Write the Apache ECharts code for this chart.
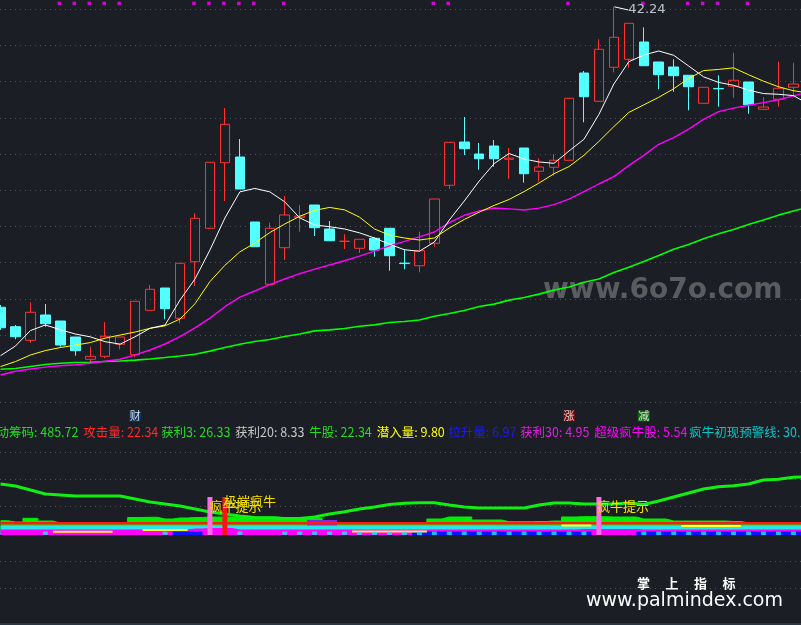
<!DOCTYPE html>
<html><head><meta charset="utf-8">
<script src="https://cdn.jsdelivr.net/npm/echarts@6/dist/echarts.min.js"></script>
<style>html,body{margin:0;padding:0;background:#1c1e26;}#c{width:801px;height:625px;}</style>
</head><body><div id="c"></div>
<script>
// ---------------- data ----------------
const cats = ['1','2','3','4','5','6','7','8','9','10','11','12','13','14','15','16','17','18','19','20',
'21','22','23','24','25','26','27','28','29','30','31','32','33','34','35','36','37','38','39','40',
'41','42','43','44','45','46','47','48','49','50','51','52','53','54','55'];

// [open, close, low, high]
const candles = [
[21.20,19.77,19.61,21.36],[19.84,19.14,18.96,19.96],[18.89,20.85,18.72,21.55],[20.66,20.05,19.84,21.43],
[20.24,18.56,18.44,20.24],[19.12,18.16,17.81,19.12],[17.56,17.77,17.35,18.44],[17.77,19.17,17.63,20.17],
[18.61,19.12,18.26,19.12],[17.88,21.62,17.70,21.62],[20.99,22.46,20.99,22.76],[22.55,21.10,20.36,22.55],
[20.43,24.28,20.08,24.28],[24.39,27.43,22.69,27.78],[26.73,31.35,26.73,31.35],[31.32,34.01,28.64,35.15],
[31.72,29.48,29.48,32.98],[27.17,25.44,25.44,27.17],[22.81,26.73,22.81,27.12],[25.37,27.66,24.51,28.99],
[27.50,27.59,26.49,28.36],[28.36,26.77,26.19,28.36],[26.68,25.86,25.86,27.24],[25.81,25.83,25.28,26.31],
[25.33,25.96,25.00,25.96],[26.03,25.21,24.74,26.10],[26.73,24.81,23.76,26.73],[24.29,24.26,23.86,25.26],
[24.11,25.16,23.65,26.49],[25.68,28.78,25.44,28.78],[29.74,32.75,29.50,32.75],[32.77,32.30,31.86,34.52],
[31.93,31.60,30.83,32.70],[32.49,31.60,31.04,32.91],[31.56,31.64,30.20,32.35],[32.35,30.55,29.92,32.35],
[30.72,31.02,29.99,31.63],[31.00,31.49,30.41,31.91],[31.49,35.83,31.49,35.83],[37.60,35.94,34.15,37.74],
[35.62,39.26,35.62,39.96],[38.00,40.10,37.65,42.24],[38.56,41.08,37.97,41.08],[39.77,38.11,38.11,40.80],
[38.37,37.48,36.46,38.37],[38.02,37.41,36.29,38.56],[37.44,36.64,34.99,37.44],[35.48,36.60,35.48,36.60],
[36.52,36.49,35.24,37.44],[36.67,37.09,35.87,39.02],[36.97,35.38,34.75,36.97],[35.06,35.22,35.01,35.90],
[35.76,36.53,35.24,38.39],[36.60,36.83,35.94,38.32],'-'
];

const ma5 = [17.81,18.49,19.57,19.96,19.63,19.33,19.13,18.79,18.62,19.14,19.73,19.96,21.71,23.18,25.21,27.45,29.28,29.52,29.28,28.58,
27.46,26.96,26.84,26.68,26.41,26.05,25.61,25.23,25.12,25.77,27.31,28.64,30.04,31.26,31.96,31.58,31.37,31.28,32.14,32.96,
34.70,36.83,38.39,38.86,39.14,38.84,38.09,37.33,36.94,36.74,36.40,36.16,36.11,36.02,35.43];
const ma10 = [17.05,17.40,17.86,18.17,18.38,18.55,18.73,19.04,19.26,19.47,19.73,19.90,20.38,21.45,23.00,24.14,25.08,25.70,26.43,27.03,
27.57,27.99,28.19,28.02,27.51,26.68,26.25,26.05,25.91,26.05,26.75,27.35,27.86,28.33,28.75,29.30,29.90,30.55,31.05,31.84,
32.81,33.85,34.84,35.37,35.90,36.50,37.22,37.77,37.85,37.96,37.48,37.03,36.64,36.36,36.20];
const ma20 = [16.46,16.72,16.88,17.01,17.11,17.18,17.28,17.42,17.56,17.87,18.21,18.63,19.14,19.76,20.44,21.24,21.91,22.34,22.79,23.18,
23.55,23.87,24.16,24.46,24.78,25.13,25.50,25.81,26.13,26.47,27.13,27.64,27.94,28.15,28.09,28.01,28.14,28.39,28.77,29.30,
29.83,30.35,31.12,31.83,32.61,33.07,33.67,34.35,34.90,35.14,35.34,35.53,35.73,36.00,36.27];
const ma60 = [16.86,16.91,17.05,17.19,17.28,17.33,17.35,17.40,17.44,17.50,17.58,17.68,17.79,17.91,18.13,18.38,18.61,18.80,18.94,19.15,
19.33,19.55,19.62,19.71,19.87,19.97,20.13,20.20,20.31,20.57,20.76,20.97,21.25,21.42,21.70,21.88,22.12,22.40,22.62,22.95,
23.18,23.63,24.00,24.40,24.82,25.27,25.59,25.99,26.34,26.65,26.99,27.31,27.65,27.94,28.22];

// top signal dots
const sigIdx = [4,5,6,7,8,13,14,15,16,17,19,29,30,38,43,46,47,48,50];
const sigLevel = 42.47;

// indicator panel
const indMain = [51,49,45,41,40,39,39,39,39,36,33,31,29,26,23,21,19,17.5,17.3,16.5,
16.5,18,21,23.3,26,28,30.5,31.7,32.3,32.3,30,28,27,27,27,27,30,32,32,31,
31,31,32,30.5,34,38,42,46,48.3,49.3,51,55,55.7,57.7,58.5];
const indGreen = [14.3,13,16.7,14,12,12,12,12,12,17.5,17.7,16,17,17.5,18,18,18,18,18,17,
16.7,16.7,12,12,12,12,12,12,12,16,18,18,15,15,13.3,13.3,13.5,14,18,18.3,
18.3,18,18,16,16,14,14,14,14,13.5,12,12,12,12,12];
const indPurple = [null,null,null,null,null,null,null,null,null,null,null,null,null,null,null,null,null,null,null,null,
null,15,15,null,null,null,null,null,null,null,null,null,null,null,null,null,null,null,null,null,
null,null,null,null,null,null,null,null,null,null,null,null,null,null,null];
const indRed = [11.7,11.7,11.7,11.7,11.7,11.7,11.7,11.7,11.7,11.7,11.7,11.7,11.7,11.7,11.7,11.7,11.7,11.7,11.7,11.7,
11.7,11.7,11.7,11.7,11.7,11.7,11.7,11.7,11.7,11.7,11.7,11.7,11.7,11.7,11.7,11.7,11.7,11.7,11.7,11.7,
11.7,11.7,11.7,11.7,11.7,11.7,11.7,11.7,11.7,11.7,11.7,11.7,11.7,11.7,11.7];
const indCyan = [9.5,9.5,9.5,9.5,9.5,9.5,9.5,9.5,9.5,9.5,9.5,9.5,9.5,9.5,9.5,9.5,9.5,9.5,9.5,9.5,
9.5,9.5,9.5,9.5,9.5,9.5,9.5,9.5,9.5,9.5,9.5,9.5,9.5,9.5,9.5,9.5,9.5,9.5,9.5,9.5,
9.5,9.5,9.5,9.5,9.5,9.5,9.5,9.5,9.5,9.5,9.5,9.5,9.5,9.5,9.5];
const indMagenta = [5.5,5.5,5.5,5.5,5.5,5.5,5.5,5.5,5.5,5.5,5.5,5.5,5.5,6.5,7,7,5.5,5.5,5.5,5.5,
5.5,5.5,5.5,5.5,5.5,5.5,5.5,5.5,5.5,5.5,5.5,5.5,5.5,5.5,5.5,5.5,5.5,5.5,5.5,6,
6,6,6,5.5,5.5,5.5,5.5,5.5,5.5,5.5,5.5,5.5,5.5,5.5,5.5];
const indBlue = [null,null,null,null,null,null,null,null,null,null,null,null,3.5,3.5,null,null,null,null,null,null,
null,null,null,null,null,null,null,null,3.5,3.5,3.5,3.5,3.5,3.5,3.5,3.5,3.5,3.5,3.5,3.5,
null,null,null,3.5,3.5,3.5,3.5,3.5,3.5,3.5,3.5,3.5,3.5,3.5,3.5];
const indYellow = [null,null,null,null,3.3,3.3,3.3,3.3,null,null,5,5,5,null,null,null,null,null,null,null,
null,null,null,null,3.5,3.5,3.5,3.5,3.5,null,null,null,null,null,null,null,null,null,9.5,9.5,
null,null,null,null,null,null,9,9,9,9,null,null,null,null,null];
const cyanSqIdx = [3,11,16,19,20,21,22,23,24,25,26,27,28,29,30,31,32,33,34,35,36,37,38,39,43,44,45,46,47,48,49,50,51,52,53];
const cyanSqLevel = 1.7;
const barIdx = [14,15,40];
const barVal = [38,38,38];
const barText = ['疯牛提示','极端疯牛','疯牛提示'];
const markIdx = [9,38,43];
const markLevel = 119;
const markText = ['财','涨','减'];

const legendNames = ['动筹码','攻击量','获利3','获利20','牛股','潜入量','拉升量','获利30','超级疯牛股','疯牛初现预警线'];
const legendVals = ['485.72','22.34','26.33','8.33','22.34','9.80','6.97','4.95','5.54','30.00'];

// ---------------- styles ----------------
const BG = '#1c1e26';
const legendColors = ['#22dd22','#ff2a2a','#22dd22','#c8c8c8','#22dd22','#ffff00','#1a1aff','#e01ee0','#ff00ff','#00c8c8'];
const legendX = [-3.5,83.3,161,235,309.3,376.7,448.3,520,594.3,689.3];
const markColors = ['#0b3a72','#8a0a0a','#0a7a0a'];
const barColors = ['#ff6ae6','#ff1414','#ff6ae6'];
const barLabelPos = [[2,2.5],[1.6,-2.8],[0.6,3]];
const dotLine = {show:true, lineStyle:{color:'#4c505a', width:1, type:[1,4]}};
const CJK = '"Noto Sans CJK SC"';

const chart = echarts.init(document.getElementById('c'), null, {renderer:'canvas'});

const hidAx = {axisLine:{show:false}, axisTick:{show:false}, axisLabel:{show:false}};
const GL = -6.98, GW = 822.8;
const gridBase = {outerBoundsMode:'none', containLabel:false};

const barData = cats.map(()=>null);
barIdx.forEach((ix,k)=>{
  barData[ix] = {value:barVal[k], itemStyle:{color:barColors[k]},
    label:{show:true, formatter:barText[k], position:barLabelPos[k], color:'#f5e000',
      fontSize:13, fontFamily:CJK}};
});

const graphics = [];
legendNames.forEach((n,k)=>{
  graphics.push({type:'text', x:legendX[k], y:432, z:10,
    style:{text:n+': '+legendVals[k], fill:legendColors[k], font:'12.5px '+CJK, verticalAlign:'middle'}});
});
graphics.push({type:'text', x:543, y:291, z:1,
  style:{text:'www.6o7o.com', fill:'#5b5c60', font:'bold 28px "DejaVu Sans"', verticalAlign:'middle'}});
['掌','上','指','标'].forEach((ch,k)=>{
  graphics.push({type:'text', x:637+k*28.5, y:583, z:10,
    style:{text:ch, fill:'#ffffff', font:'bold 13px '+CJK, verticalAlign:'middle'}});
});
graphics.push({type:'text', x:586, y:601, z:10,
  style:{text:'www.palmindex.com', fill:'#ffffff', font:'19px "DejaVu Sans"', verticalAlign:'middle'}});
graphics.push({type:'rect', z:10, shape:{x:0,y:623,width:801,height:2}, style:{fill:'#2b3644'}});

const option = {
  backgroundColor: BG,
  animation:false,
  graphic: graphics,
  grid:[
    Object.assign({left:GL, width:GW, top:0, height:400}, gridBase),
    Object.assign({left:GL, width:GW, top:400, height:135}, gridBase),
    Object.assign({left:0, right:0, top:9.3, height:362}, gridBase),
    Object.assign({left:0, right:0, top:402, height:50.1}, gridBase),
    Object.assign({left:0, right:0, top:479.3, height:108.8}, gridBase)
  ],
  xAxis:[
    Object.assign({type:'category', gridIndex:0, data:cats, boundaryGap:true, splitLine:{show:false}}, hidAx),
    Object.assign({type:'category', gridIndex:1, data:cats, boundaryGap:true, splitLine:{show:false}}, hidAx),
    Object.assign({type:'value', gridIndex:2, min:0, max:1, splitLine:{show:false}}, hidAx),
    Object.assign({type:'value', gridIndex:3, min:0, max:1, splitLine:{show:false}}, hidAx),
    Object.assign({type:'value', gridIndex:4, min:0, max:1, splitLine:{show:false}}, hidAx)
  ],
  yAxis:[
    Object.assign({type:'value', gridIndex:0, min:14.71, max:42.71, splitLine:{show:false}}, hidAx),
    Object.assign({type:'value', gridIndex:1, min:0, max:135, splitLine:{show:false}}, hidAx),
    Object.assign({type:'value', gridIndex:2, min:0, max:10, interval:1, splitLine:dotLine}, hidAx),
    Object.assign({type:'value', gridIndex:3, min:0, max:1, interval:1, splitLine:dotLine}, hidAx),
    Object.assign({type:'value', gridIndex:4, min:0, max:4, interval:1, splitLine:dotLine}, hidAx)
  ],
  series:[
    {type:'line', xAxisIndex:2, yAxisIndex:2, data:[], silent:true},
    {type:'line', xAxisIndex:3, yAxisIndex:3, data:[], silent:true},
    {type:'line', xAxisIndex:4, yAxisIndex:4, data:[], silent:true},
    {type:'candlestick', xAxisIndex:0, yAxisIndex:0, data:candles, barWidth:10, z:3,
      itemStyle:{color:'rgba(0,0,0,0)', color0:'#54ffff', borderColor:'#ff3232', borderColor0:'#54ffff', borderWidth:1}},
    {type:'line', xAxisIndex:0, yAxisIndex:0, data:ma60, symbol:'none', z:4, lineStyle:{color:'#00ff00', width:1.6}},
    {type:'line', xAxisIndex:0, yAxisIndex:0, data:ma20, symbol:'none', z:4, lineStyle:{color:'#ff00ff', width:1.4}},
    {type:'line', xAxisIndex:0, yAxisIndex:0, data:ma10, symbol:'none', z:4, lineStyle:{color:'#ffff00', width:1}},
    {type:'line', xAxisIndex:0, yAxisIndex:0, data:ma5, symbol:'none', z:4, lineStyle:{color:'#ffffff', width:1}},
    {type:'scatter', xAxisIndex:0, yAxisIndex:0, symbol:'rect', symbolSize:3.5, symbolOffset:[-1,0], z:5,
      itemStyle:{color:'#ff00ff'}, data: sigIdx.map(i=>[i, sigLevel])},
    {type:'scatter', xAxisIndex:0, yAxisIndex:0, symbolSize:1, z:6, itemStyle:{color:'rgba(0,0,0,0)'},
      data:[[41, candles[41][3]]],
      label:{show:true, position:'right', distance:5, formatter:(p)=>p.value[1].toFixed(2), color:'#e2e9f2', fontSize:13, fontFamily:'"DejaVu Sans"'},
      labelLayout:{dx:9, dy:3.3},
      labelLine:{show:true, lineStyle:{color:'#ffffff', width:1}}},
    // indicator panel
    {type:'line', xAxisIndex:1, yAxisIndex:1, data:indGreen, step:'middle', symbol:'none', z:2,
      lineStyle:{width:1, color:'#00ee00'}, areaStyle:{color:'#00ee00', opacity:1}},
    {type:'line', xAxisIndex:1, yAxisIndex:1, data:indPurple, step:'middle', symbol:'none', z:3,
      lineStyle:{width:0}, areaStyle:{color:'#7a2cf0', opacity:1}},
    {type:'line', xAxisIndex:1, yAxisIndex:1, data:indCyan, step:'middle', symbol:'none', z:4,
      lineStyle:{width:0}, areaStyle:{color:'#22e8e8', opacity:1}},
    {type:'line', xAxisIndex:1, yAxisIndex:1, data:indRed, step:'middle', symbol:'none', z:5,
      lineStyle:{width:2.5, color:'#ff1a1a'}},
    {type:'line', xAxisIndex:1, yAxisIndex:1, data:indMagenta, step:'middle', symbol:'none', z:6,
      lineStyle:{width:0}, areaStyle:{color:'#ff00ff', opacity:1}},
    {type:'line', xAxisIndex:1, yAxisIndex:1, data:indBlue, step:'middle', symbol:'none', z:7,
      lineStyle:{width:0}, areaStyle:{color:'#0a14ff', opacity:1}},
    {type:'line', xAxisIndex:1, yAxisIndex:1, data:indYellow, step:'middle', symbol:'none', z:8,
      lineStyle:{width:2, color:'#ffff33'}},
    {type:'scatter', xAxisIndex:1, yAxisIndex:1, symbol:'rect', symbolSize:[5,3.5], z:9,
      itemStyle:{color:'#1ee6f0'}, data: cyanSqIdx.map(i=>[i, cyanSqLevel])},
    {type:'line', xAxisIndex:1, yAxisIndex:1, data:indMain, symbol:'none', z:9,
      lineStyle:{width:3, color:'#11ee11'}},
    {type:'bar', xAxisIndex:1, yAxisIndex:1, data:barData, barWidth:5, z:10},
    {type:'scatter', xAxisIndex:1, yAxisIndex:1, symbol:'rect', symbolSize:[12,11], z:10,
      data: markIdx.map((ix,k)=>({value:[ix, markLevel], itemStyle:{color:markColors[k]},
        label:{show:true, position:'inside', formatter:markText[k], color:'#ffffff', fontSize:11, fontFamily:CJK}}))}
  ]
};
chart.setOption(option);
</script>
</body></html>
